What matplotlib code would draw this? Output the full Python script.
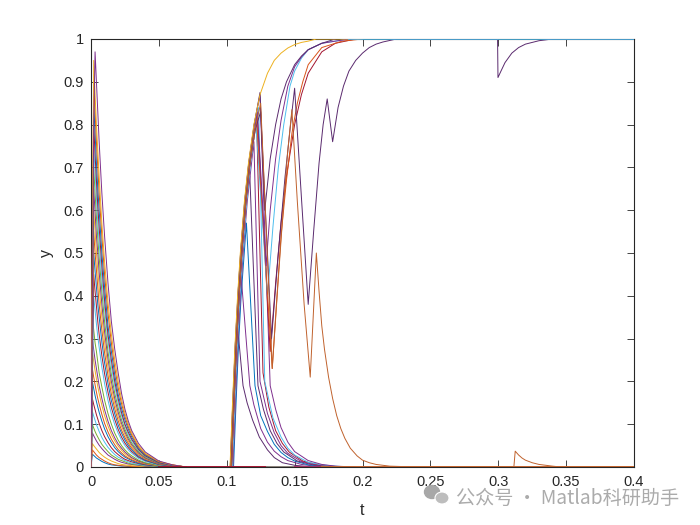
import matplotlib
matplotlib.use("Agg")
import matplotlib.pyplot as plt
from matplotlib.patches import Ellipse

plt.rcParams['font.family'] = ['Liberation Sans', 'DejaVu Sans']

BLUE, ORANGE, GOLD, PURPLE, GREEN, CYAN, RED = ('#0072BD', '#D95319', '#EDB120', '#7E2F8E',
                                                '#77AC30', '#4DBEEE', '#A2142F')
DARK = '#5A2A6E'
BROWN = '#C0622D'
cycle = [BLUE, ORANGE, GOLD, PURPLE, GREEN, CYAN, RED]

x_ticks = [0, 0.05, 0.1, 0.15, 0.2, 0.25, 0.3, 0.35, 0.4]
x_labels = ['0', '0.05', '0.1', '0.15', '0.2', '0.25', '0.3', '0.35', '0.4']
y_ticks = [0, 0.1, 0.2, 0.3, 0.4, 0.5, 0.6, 0.7, 0.8, 0.9, 1]
y_labels = ['0', '0.1', '0.2', '0.3', '0.4', '0.5', '0.6', '0.7', '0.8', '0.9', '1']

decay_t = [0, .001, .002, .003, .004, .005, .006, .008, .01, .0125, .015, .0175, .02, .0225, .025, .0275, .03, .035, .04, .05, .06, .07]
decay_rows = [
    [0, .03, .027, .024, .021, .019, .017, .013, .010, .007, .005, .004, .003, .002, .002, .001, .001, 0, 0, 0, 0, 0],
    [0, .04, .036, .032, .028, .025, .022, .018, .014, .010, .007, .005, .004, .003, .002, .002, .001, .001, 0, 0, 0, 0],
    [0, .055, .05, .046, .042, .038, .034, .028, .023, .018, .014, .011, .008, .006, .005, .004, .003, .002, .001, 0, 0, 0],
    [0, .08, .073, .067, .061, .056, .051, .043, .036, .028, .023, .018, .014, .011, .009, .007, .006, .004, .002, .001, 0, 0],
    [0, .10, .091, .083, .076, .07, .064, .053, .045, .036, .028, .023, .018, .015, .012, .009, .007, .005, .003, .001, 0, 0],
    [0, .13, .119, .109, .099, .091, .083, .069, .058, .046, .037, .029, .023, .019, .015, .012, .009, .006, .004, .002, .001, 0],
    [0, .16, .146, .134, .122, .112, .102, .085, .071, .057, .045, .036, .029, .023, .018, .015, .012, .008, .005, .002, .001, 0],
    [0, .20, .183, .167, .153, .14, .128, .107, .089, .071, .057, .045, .036, .029, .023, .019, .015, .009, .006, .002, .001, 0],
    [0, .23, .21, .192, .175, .16, .147, .123, .102, .082, .065, .052, .041, .033, .026, .021, .017, .011, .007, .003, .001, 0],
    [0, .27, .247, .225, .206, .188, .172, .144, .12, .096, .076, .061, .049, .039, .031, .025, .02, .013, .008, .003, .001, 0],
    [0, .30, .274, .25, .23, .21, .19, .16, .134, .107, .085, .068, .054, .044, .035, .028, .022, .014, .009, .004, .001, 0],
    [0, .35, .32, .29, .27, .245, .22, .187, .156, .125, .10, .079, .063, .05, .04, .032, .026, .016, .01, .004, .002, 0],
    [0, .20, .40, .366, .334, .305, .28, .233, .195, .156, .124, .099, .079, .063, .05, .04, .032, .02, .013, .005, .002, 0],
    [0, .25, .45, .41, .376, .34, .31, .26, .218, .175, .139, .111, .088, .07, .056, .045, .036, .023, .015, .006, .002, 0],
    [0, .30, .50, .457, .42, .38, .35, .292, .243, .195, .155, .124, .098, .079, .063, .05, .04, .025, .016, .006, .003, 0],
    [0, .30, .55, .50, .46, .42, .38, .32, .267, .214, .17, .136, .108, .086, .069, .055, .044, .028, .018, .007, .003, 0],
    [0, .35, .60, .55, .50, .46, .42, .35, .292, .233, .186, .148, .118, .095, .076, .06, .048, .031, .02, .008, .003, 0],
    [0, .40, .65, .595, .54, .50, .455, .38, .316, .253, .20, .16, .128, .102, .082, .065, .052, .033, .021, .008, .003, 0],
    [0, .40, .70, .64, .585, .535, .49, .41, .34, .27, .216, .172, .138, .11, .088, .07, .056, .036, .023, .009, .004, 0],
    [0, .45, .75, .69, .63, .57, .525, .44, .37, .295, .235, .188, .15, .12, .096, .076, .061, .039, .025, .01, .004, 0],
    [0, .45, .80, .73, .67, .61, .56, .47, .39, .31, .25, .20, .16, .127, .10, .081, .065, .041, .026, .01, .004, 0],
    [0, .40, .85, .78, .71, .65, .60, .50, .42, .33, .27, .215, .17, .137, .11, .088, .07, .044, .028, .011, .004, 0],
    [0, .50, .90, .83, .76, .70, .64, .54, .45, .36, .29, .232, .185, .148, .118, .094, .075, .047, .03, .012, .005, 0],
    [0, .50, .95, .87, .80, .74, .68, .57, .48, .385, .31, .25, .20, .158, .125, .10, .08, .05, .032, .013, .005, 0],
    [0, .40, .80, .97, .90, .83, .76, .64, .54, .43, .34, .275, .22, .172, .135, .107, .085, .055, .035, .014, .005, 0],
]

fall_curves = [
    ([.1028, .1045, .1065, .1085, .112, .115, .119, .124, .13, .135, .141, .15, .16, .17],
     [0, .13, .27, .31, .19, .15, .11, .07, .04, .022, .010, .004, .001, 0], DARK),
    ([.1028, .1045, .1065, .1085, .11, .117, .12, .125, .13, .135, .14, .145, .155, .165, .18],
     [0, .13, .28, .40, .47, .19, .145, .09, .058, .037, .024, .015, .006, .002, 0], PURPLE),
    ([.105, .1066, .1086, .1106, .1145, .1208, .125, .13, .135, .14, .145, .15, .16, .17, .18],
     [0, .13, .28, .40, .57, .19, .12, .083, .053, .034, .022, .014, .005, .002, 0], BLUE),
    ([.1035, .1051, .1071, .1091, .1111, .1141, .117, .123, .127, .132, .137, .142, .152, .162, .172, .185],
     [0, .13, .28, .40, .50, .62, .68, .19, .135, .085, .055, .035, .014, .006, .002, 0], DARK),
    ([.1045, .1061, .1081, .1101, .1121, .1151, .12, .1245, .13, .135, .14, .145, .155, .165, .175, .185],
     [0, .13, .28, .40, .50, .62, .76, .20, .125, .08, .05, .032, .013, .005, .002, 0], PURPLE),
    ([.1035, .1051, .1071, .1091, .1111, .1141, .1171, .122, .1267, .131, .136, .141, .146, .156, .166, .176, .19],
     [0, .13, .28, .40, .50, .62, .71, .81, .22, .14, .085, .055, .035, .014, .006, .002, 0], RED),
    ([.1035, .1051, .1071, .1091, .1111, .1141, .1171, .1235, .128, .134, .14, .145, .15, .16, .17, .18, .19],
     [0, .13, .28, .40, .50, .62, .71, .84, .20, .115, .07, .044, .028, .011, .005, .002, 0], CYAN),
    ([.1026, .1042, .1062, .1082, .1102, .1132, .1162, .1202, .1245, .132, .136, .14, .145, .15, .16, .17, .18, .195],
     [0, .13, .28, .40, .50, .62, .71, .80, .87, .19, .135, .092, .058, .036, .015, .006, .002, 0], PURPLE),
]

rise_curves = [
    ([.1035, .1051, .1071, .1091, .1111, .1141, .1171, .1225, .132, .136, .14, .144, .15, .155, .16, .17, .18, .195],
     [0, .13, .28, .40, .50, .62, .71, .82, .27, .43, .57, .68, .80, .87, .92, .97, .99, 1], RED),
    ([.104, .1056, .1076, .1096, .1116, .1146, .1176, .1215, .13, .134, .138, .142, .1466, .15, .155, .16, .17, .19],
     [0, .13, .28, .40, .50, .62, .71, .80, .40, .56, .70, .80, .89, .925, .955, .975, .99, 1], CYAN),
    ([.1035, .1051, .1071, .1091, .1111, .1141, .1171, .122, .1335, .137, .14, .144, .148, .152, .156, .16, .17, .185, .2],
     [0, .13, .28, .40, .50, .62, .71, .81, .23, .40, .54, .67, .78, .85, .90, .94, .98, .995, 1], ORANGE),
    ([.1035, .1051, .1071, .1091, .1111, .1141, .1171, .1225, .129, .132, .136, .14, .145, .15, .155, .16, .17, .19],
     [0, .13, .28, .40, .50, .62, .71, .83, .47, .60, .72, .81, .89, .935, .958, .975, .99, 1], PURPLE),
    ([.1026, .1042, .1062, .1082, .1102, .1132, .1162, .1202, .1245, .128, .132, .136, .14, .144, .15, .155, .16, .17, .18],
     [0, .13, .28, .40, .50, .62, .71, .80, .875, .60, .72, .80, .86, .90, .94, .96, .975, .99, 1], DARK),
]

gold_t = [.1024, .104, .106, .108, .11, .113, .116, .12, .1245, .13, .135, .14, .145, .15, .155, .16, .166, .19]
gold_y = [0, .13, .28, .40, .50, .62, .71, .80, .87, .92, .95, .967, .979, .987, .992, .995, 1, 1]

brown_t = [.1035, .1051, .1071, .1091, .1111, .1141, .1171, .1201, .125, .1335, .138, .142, .145, .148, .152, .157, .1615, .166,
           .168, .17, .172, .175, .178, .181, .184, .187, .191, .196, .2, .205, .21, .22, .23, .24, .3115, .3125, .315, .3175, .32, .325, .33, .34, .346, .4]
brown_y = [0, .13, .28, .40, .50, .62, .71, .78, .85, .23, .44, .62, .74, .835, .62, .38, .21, .50,
           .41, .33, .275, .21, .16, .12, .09, .067, .044, .026, .016, .010, .006, .002, .001, 0, 0, .037, .028, .021, .016, .010, .006, .002, 0, 0]

purple_t = [.1035, .1051, .1071, .1091, .1111, .1141, .1171, .1201, .125, .133, .138, .143, .147, .150, .155, .16, .164, .168, .171, .174, .178, .182, .186,
            .19, .195, .2, .205, .21, .215, .225, .2995, .2998, .302, .305, .31, .315, .32, .33, .34, .4]
purple_y = [0, .13, .28, .40, .50, .62, .71, .78, .83, .30, .50, .68, .80, .885, .63, .38, .55, .71, .80, .86, .76, .84, .89,
            .925, .95, .967, .98, .988, .993, 1, 1, .91, .925, .945, .967, .98, .988, .996, 1, 1]

top_t = [.19, .4]
top_y = [1, 1]
base_red_t = [.05, .13]
base_grey_t = [.13, .15]
base_mag_t = [.15, .17]
base_orange_t = [.17, .4]
base_y = [0, 0]

fig = plt.figure(figsize=(7, 5.25), dpi=100)
ax = fig.add_axes([91 / 700, (525 - 467) / 525, 543 / 700, 428 / 525])

lw = 0.7
for i, row in enumerate(decay_rows):
    ax.plot(decay_t, row, color=cycle[i % 7], lw=lw, zorder=3)
for t, y, c in fall_curves + rise_curves:
    ax.plot(t, y, color=c, lw=lw, zorder=3)
ax.plot(gold_t, gold_y, color=GOLD, lw=lw, zorder=3.1)
ax.plot(purple_t, purple_y, color=DARK, lw=lw, zorder=3.2)
ax.plot(brown_t, brown_y, color=BROWN, lw=lw, zorder=3.3)
ax.plot(top_t, top_y, color=CYAN, lw=lw + 0.4, zorder=3.4)
ax.plot(base_red_t, base_y, color=RED, lw=lw + 0.7, zorder=3.4)
ax.plot(base_grey_t, base_y, color='#8a8078', lw=lw + 0.7, zorder=3.4)
ax.plot(base_mag_t, base_y, color='#A23060', lw=lw + 0.7, zorder=3.4)
ax.plot(base_orange_t, base_y, color=BROWN, lw=lw + 0.7, zorder=3.4)

ax.set_xlim(0, 0.4)
ax.set_ylim(0, 1)
ax.set_xticks(x_ticks, x_labels)
ax.set_yticks(y_ticks, y_labels)
ax.tick_params(direction='in', top=True, right=True, length=5, width=0.6, labelsize=10.5,
               color='#262626', labelcolor='#262626')
ax.tick_params(axis='x', pad=6)
ax.tick_params(axis='y', pad=5)
for s in ax.spines.values():
    s.set_linewidth(0.8)
    s.set_color('#262626')
ax.set_xlabel('t', fontsize=11.5, color='#262626', labelpad=10)
ax.set_ylabel('y', fontsize=11.5, color='#262626', labelpad=7)

fig.text(456 / 700, 1 - 498 / 525, '公众号 · Matlab科研助手', fontsize=13.8, color='#ababab', va='center',
         family=['Noto Sans CJK SC', 'DejaVu Sans'])
fig.add_artist(Ellipse((432 / 700, 1 - 492 / 525), 15 / 700, 13 / 525, color='#a8a8a8', transform=fig.transFigure))
fig.add_artist(Ellipse((442 / 700, 1 - 498 / 525), 14 / 700, 12 / 525, color='#bdbdbd', ec='white', lw=0.8,
                       transform=fig.transFigure))

fig.savefig('out.png', dpi=100)
